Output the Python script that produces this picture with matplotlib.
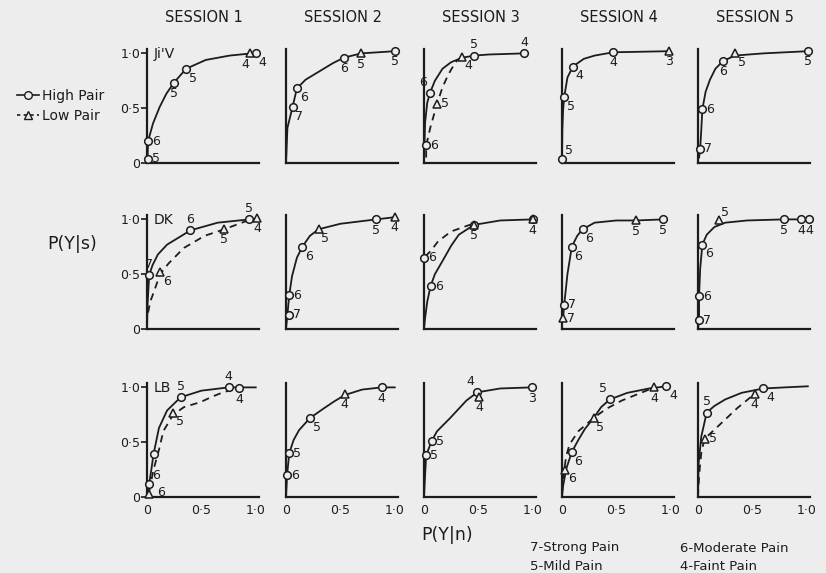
import matplotlib
matplotlib.use('Agg')
import matplotlib.pyplot as plt
from matplotlib.lines import Line2D

sessions = ['SESSION 1', 'SESSION 2', 'SESSION 3', 'SESSION 4', 'SESSION 5']
subjects = ["Ji'V", 'DK', 'LB']
criteria_left = ['7-Strong Pain', '5-Mild Pain']
criteria_right = ['6-Moderate Pain', '4-Faint Pain']
tick_vals = [0, 0.5, 1.0]
tick_text = ['0', '0·5', '1·0']

# curves, x = P(Y|n), y = P(Y|s); one entry per session
# ---- Ji'V ----
jv_high = [
    ([0, 0.005, 0.01, 0.055, 0.116, 0.177, 0.245, 0.36, 0.54, 0.76, 0.96, 1.0],
     [0, 0.04, 0.20, 0.36, 0.51, 0.63, 0.73, 0.86, 0.94, 0.98, 1.0, 1.0]),
    ([0, 0.005, 0.013, 0.06, 0.10, 0.18, 0.28, 0.43, 0.53, 0.69, 1.0],
     [0, 0.12, 0.32, 0.51, 0.68, 0.76, 0.82, 0.91, 0.96, 1.0, 1.02]),
    ([0, 0.005, 0.01, 0.03, 0.055, 0.10, 0.17, 0.25, 0.35, 0.46, 0.6, 0.92],
     [0, 0.2, 0.37, 0.55, 0.64, 0.75, 0.86, 0.92, 0.96, 0.98, 0.99, 1.0]),
    ([0, 0.003, 0.01, 0.02, 0.05, 0.10, 0.2, 0.3, 0.47, 0.98],
     [0.04, 0.3, 0.48, 0.60, 0.78, 0.88, 0.95, 0.98, 1.01, 1.02]),
    ([0.01, 0.02, 0.03, 0.04, 0.07, 0.11, 0.16, 0.23, 0.34, 0.6, 1.01],
     [0.05, 0.13, 0.3, 0.49, 0.65, 0.76, 0.86, 0.93, 0.98, 1.0, 1.02]),
]
jv_low = [
    None,
    None,
    ([0.02, 0.02, 0.06, 0.12, 0.17, 0.22, 0.26, 0.30, 0.35],
     [0.05, 0.16, 0.33, 0.54, 0.69, 0.80, 0.87, 0.93, 0.97]),
    None,
    None,
]
jv_circles = [
    [(0.01, 0.04, '5'), (0.01, 0.20, '6'), (0.245, 0.73, '5'), (0.36, 0.86, '5'), (1.0, 1.0, '4')],
    [(0.06, 0.51, '7'), (0.10, 0.68, '6'), (0.53, 0.96, '6'), (1.0, 1.02, '5')],
    [(0.055, 0.64, '6'), (0.46, 0.98, '5'), (0.92, 1.0, '4'), (0.02, 0.16, '6')],
    [(0.47, 1.01, '4'), (0.10, 0.88, '4'), (0.02, 0.60, '5'), (0.0, 0.04, '5')],
    [(1.01, 1.02, '5'), (0.23, 0.93, '6'), (0.04, 0.49, '6'), (0.02, 0.13, '7')],
]
jv_triangles = [
    [(0.95, 1.0, '4')],
    [(0.69, 1.0, '5')],
    [(0.35, 0.97, '4'), (0.12, 0.54, '5')],
    [(0.98, 1.02, '3')],
    [(0.34, 1.0, '5')],
]
jv_circle_side = [['r', 'r', 'b', 'br', 'br'], ['br', 'br', 'b', 'b'],
                  ['al', 'a', 'a', 'r'], ['b', 'br', 'br', 'ar'], ['b', 'b', 'r', 'r']]
jv_triangle_side = [['bl'], ['b'], ['br', 'r'], ['b'], ['br']]

# ---- DK ----
dk_high = [
    ([0, 0.005, 0.02, 0.05, 0.1, 0.185, 0.4, 0.65, 0.94],
     [0, 0.22, 0.49, 0.58, 0.68, 0.77, 0.90, 0.97, 1.0]),
    ([0, 0.01, 0.03, 0.055, 0.1, 0.15, 0.22, 0.30, 0.5, 0.83, 1.0],
     [0, 0.1, 0.31, 0.48, 0.65, 0.75, 0.85, 0.91, 0.96, 1.0, 1.02]),
    ([0, 0.01, 0.03, 0.06, 0.1, 0.17, 0.25, 0.32, 0.46, 0.7, 1.0],
     [0, 0.1, 0.25, 0.39, 0.5, 0.62, 0.76, 0.86, 0.95, 0.99, 1.0]),
    ([0, 0.01, 0.02, 0.05, 0.09, 0.14, 0.19, 0.3, 0.5, 0.68, 0.93],
     [0.05, 0.10, 0.22, 0.5, 0.75, 0.85, 0.91, 0.97, 0.99, 0.99, 1.0]),
    ([0.0, 0.01, 0.01, 0.02, 0.04, 0.08, 0.15, 0.25, 0.45, 0.79, 1.02],
     [0.0, 0.08, 0.3, 0.55, 0.77, 0.86, 0.93, 0.97, 0.99, 1.0, 1.0]),
]
dk_low = [
    ([0.01, 0.03, 0.06, 0.12, 0.2, 0.34, 0.53, 0.71, 0.9, 1.01],
     [0.15, 0.25, 0.33, 0.50, 0.6, 0.74, 0.85, 0.91, 0.98, 1.01]),
    None,
    ([0.0, 0.0, 0.06, 0.13, 0.25, 0.42, 0.46],
     [0.55, 0.65, 0.71, 0.80, 0.89, 0.95, 0.95]),
    None,
    None,
]
dk_circles = [
    [(0.94, 1.0, '5'), (0.40, 0.90, '6'), (0.02, 0.49, '7')],
    [(0.83, 1.0, '5'), (0.15, 0.75, '6'), (0.03, 0.31, '6'), (0.03, 0.13, '7')],
    [(1.0, 1.0, '4'), (0.46, 0.95, '5'), (0.0, 0.65, '6'), (0.06, 0.39, '6')],
    [(0.93, 1.0, '5'), (0.19, 0.91, '6'), (0.09, 0.75, '6'), (0.02, 0.22, '7')],
    [(1.02, 1.0, '4'), (0.95, 1.0, '4'), (0.79, 1.0, '5'), (0.04, 0.77, '6'),
     (0.01, 0.30, '6'), (0.01, 0.08, '7')],
]
dk_triangles = [
    [(1.01, 1.01, '4'), (0.71, 0.91, '5'), (0.12, 0.52, '6')],
    [(1.0, 1.02, '4'), (0.30, 0.91, '5')],
    [(1.0, 1.0, ''), (0.46, 0.95, '')],
    [(0.68, 0.99, '5'), (0.01, 0.10, '7')],
    [(0.19, 0.99, '5')],
]
dk_circle_side = [['a', 'a', 'a'], ['b', 'br', 'r', 'r'], ['b', 'b', 'r', 'r'],
                  ['b', 'br', 'br', 'r'], ['b', 'b', 'b', 'br', 'r', 'r']]
dk_triangle_side = [['b', 'b', 'br'], ['b', 'br'], ['b', 'b'], ['b', 'r'], ['ar']]

# ---- LB ----
lb_high = [
    ([0, 0.02, 0.04, 0.06, 0.11, 0.185, 0.31, 0.5, 0.75, 1.0],
     [0, 0.12, 0.25, 0.39, 0.63, 0.79, 0.91, 0.97, 1.0, 1.0]),
    ([0, 0.01, 0.03, 0.07, 0.12, 0.22, 0.35, 0.44, 0.54, 0.7, 0.88, 1.0],
     [0, 0.2, 0.40, 0.52, 0.61, 0.72, 0.81, 0.87, 0.93, 0.98, 1.0, 1.0]),
    ([0, 0.01, 0.02, 0.07, 0.12, 0.24, 0.39, 0.49, 0.7, 0.99],
     [0, 0.2, 0.38, 0.51, 0.6, 0.72, 0.88, 0.955, 0.99, 1.0]),
    ([0, 0.01, 0.04, 0.09, 0.15, 0.21, 0.29, 0.36, 0.44, 0.6, 0.8, 0.96],
     [0, 0.1, 0.26, 0.41, 0.52, 0.62, 0.72, 0.82, 0.89, 0.95, 0.99, 1.01]),
    ([0, 0.005, 0.03, 0.08, 0.15, 0.25, 0.4, 0.6, 0.8, 1.01],
     [0, 0.3, 0.55, 0.77, 0.83, 0.89, 0.95, 0.99, 1.0, 1.01]),
]
lb_low = [
    ([0.02, 0.06, 0.11, 0.15, 0.24, 0.34, 0.49, 0.61, 0.70, 0.81, 0.85],
     [0.05, 0.25, 0.43, 0.6, 0.75, 0.82, 0.865, 0.92, 0.955, 0.985, 0.99]),
    None,
    None,
    ([0.0, 0.02, 0.04, 0.07, 0.15, 0.29, 0.4, 0.55, 0.7, 0.85],
     [0.05, 0.25, 0.38, 0.48, 0.6, 0.72, 0.8, 0.88, 0.94, 1.0]),
    ([0.0, 0.01, 0.03, 0.06, 0.2, 0.36, 0.52],
     [0.0, 0.2, 0.4, 0.53, 0.66, 0.81, 0.94]),
]
lb_circles = [
    [(0.75, 1.0, '4'), (0.85, 0.99, '4'), (0.31, 0.91, '5'), (0.06, 0.39, ''), (0.02, 0.12, '6')],
    [(0.88, 1.0, '4'), (0.22, 0.72, '5'), (0.03, 0.40, '5'), (0.01, 0.20, '6')],
    [(0.99, 1.0, '3'), (0.49, 0.955, '4'), (0.07, 0.51, '5'), (0.02, 0.38, '5')],
    [(0.96, 1.01, '4'), (0.44, 0.89, '5'), (0.09, 0.41, '6')],
    [(0.60, 0.99, '4'), (0.08, 0.77, '5')],
]
lb_triangles = [
    [(0.24, 0.77, '5'), (0.02, 0.03, '6')],
    [(0.54, 0.94, '4')],
    [(0.51, 0.91, '4')],
    [(0.85, 1.0, '4'), (0.29, 0.72, '5'), (0.03, 0.25, '6')],
    [(0.52, 0.94, '4'), (0.06, 0.53, '5')],
]
lb_circle_side = [['a', 'b', 'a', 'r', 'ar'], ['b', 'br', 'r', 'r'], ['b', 'al', 'r', 'r'],
                  ['br', 'al', 'br'], ['br', 'a']]
lb_triangle_side = [['br', 'rr'], ['b'], ['b'], ['b', 'br', 'br'], ['b', 'r']]

high_curves = [jv_high, dk_high, lb_high]
low_curves = [jv_low, dk_low, lb_low]
circles = [jv_circles, dk_circles, lb_circles]
triangles = [jv_triangles, dk_triangles, lb_triangles]
circle_side = [jv_circle_side, dk_circle_side, lb_circle_side]
triangle_side = [jv_triangle_side, dk_triangle_side, lb_triangle_side]

# layout (pixels in the 826x573 picture)
W, H = 826, 573
col_left = [147, 286, 424, 562, 698]
row_bottom = [163, 329, 497]
ax_w, ax_h = 112, 114
bg = '#ededed'
ink = '#1c1c1c'

side_fmt = {
    'r': ((3, 0), 'left', 'center'),
    'rr': ((6, 1), 'left', 'center'),
    'br': ((2, -2), 'left', 'top'),
    'b': ((0, -3), 'center', 'top'),
    'bl': ((-1, -3), 'right', 'top'),
    'a': ((0, 3), 'center', 'bottom'),
    'al': ((-2, 3), 'right', 'bottom'),
    'ar': ((2, 1), 'left', 'bottom'),
}

fig = plt.figure(figsize=(W / 100, H / 100), dpi=100, facecolor=bg)


def label_points(ax, pts, sides):
    for (x, y, lab), side in zip(pts, sides):
        if not lab:
            continue
        off, ha, va = side_fmt[side]
        ax.annotate(lab, (x, y), xytext=off, textcoords='offset points',
                    ha=ha, va=va, fontsize=9, color=ink, annotation_clip=False)


for r in range(3):
    for c in range(5):
        ax = fig.add_axes([col_left[c] / W, 1 - row_bottom[r] / H, ax_w / W, ax_h / H])
        ax.set_facecolor('none')
        ax.set_xlim(0, 1.03)
        ax.set_ylim(0, 1.04)
        for s in ['top', 'right']:
            ax.spines[s].set_visible(False)
        for s in ['left', 'bottom']:
            ax.spines[s].set_linewidth(1.6)
            ax.spines[s].set_color(ink)

        hx, hy = high_curves[r][c]
        ax.plot(hx, hy, color=ink, lw=1.3, clip_on=False, zorder=2)
        if low_curves[r][c] is not None:
            lx, ly = low_curves[r][c]
            ax.plot(lx, ly, color=ink, lw=1.3, ls=(0, (4, 3)), clip_on=False, zorder=2)

        cpts = circles[r][c]
        ax.plot([p[0] for p in cpts], [p[1] for p in cpts], ls='none', marker='o',
                ms=5.5, mfc=bg, mec=ink, mew=1.1, clip_on=False, zorder=3)
        tpts = triangles[r][c]
        ax.plot([p[0] for p in tpts], [p[1] for p in tpts], ls='none', marker='^',
                ms=5.5, mfc=bg, mec=ink, mew=1.1, clip_on=False, zorder=3)
        label_points(ax, cpts, circle_side[r][c])
        label_points(ax, tpts, triangle_side[r][c])

        if c == 0:
            ax.set_yticks(tick_vals)
            ax.set_yticklabels(tick_text)
            ax.tick_params(axis='y', length=4, width=1.2, color=ink, pad=1,
                           labelsize=9, labelcolor=ink)
            ax.text(0.06, 0.99, subjects[r], fontsize=10, color=ink,
                    ha='left', va='center')
        else:
            ax.set_yticks([])
        if r == 2:
            ax.set_xticks(tick_vals)
            ax.set_xticklabels(tick_text)
            ax.tick_params(axis='x', length=0, pad=5, labelsize=9, labelcolor=ink)
        else:
            ax.set_xticks([])
        if r == 0:
            fig.text((col_left[c] + 57) / W, 1 - 17 / H, sessions[c], fontsize=10.5,
                     color=ink, ha='center', va='center')

fig.text(72 / W, 1 - 244 / H, 'P(Y|s)', fontsize=12.5, color=ink, ha='center', va='center')
fig.text(447 / W, 1 - 535 / H, 'P(Y|n)', fontsize=12.5, color=ink, ha='center', va='center')

for i, t in enumerate(criteria_left):
    fig.text(530 / W, 1 - (548 + 18 * i) / H, t, fontsize=9.5, color=ink, va='center')
for i, t in enumerate(criteria_right):
    fig.text(680 / W, 1 - (548 + 18 * i) / H, t, fontsize=9.5, color=ink, va='center')

handles = [
    Line2D([], [], color=ink, lw=1.2, marker='o', ms=5.5, mfc=bg, mec=ink, label='High Pair'),
    Line2D([], [], color=ink, lw=1.2, ls=(0, (2, 2)), marker='^', ms=5.5, mfc=bg, mec=ink,
           label='Low Pair'),
]
fig.legend(handles=handles, loc='upper left', bbox_to_anchor=(10 / W, 1 - 82 / H),
           frameon=False, fontsize=10, handlelength=1.6, handletextpad=0.2,
           labelspacing=0.45, borderpad=0, labelcolor=ink)

plt.savefig('out.png', dpi=100, facecolor=bg)
